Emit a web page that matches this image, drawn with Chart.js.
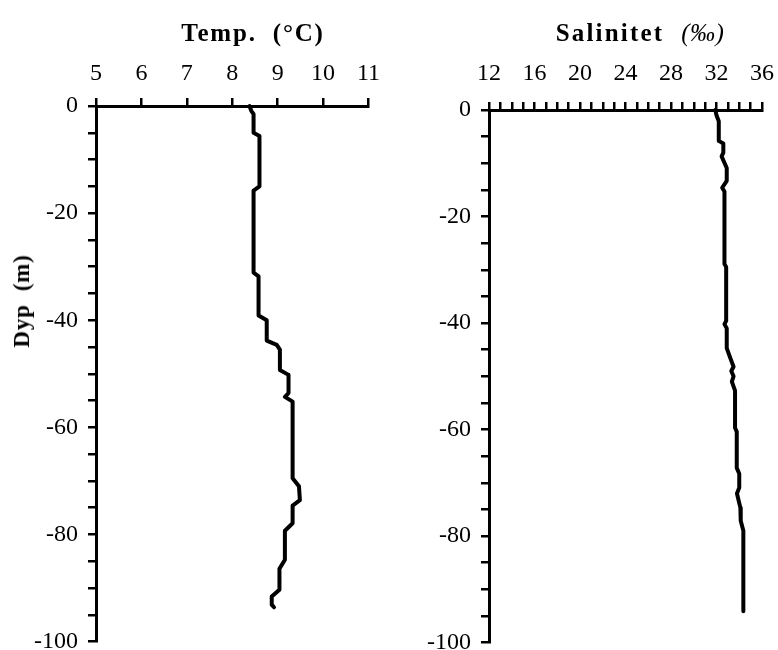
<!DOCTYPE html>
<html>
<head>
<meta charset="utf-8">
<script src="https://cdn.jsdelivr.net/npm/chart.js@4.4.1/dist/chart.umd.min.js"></script>
<style>
html,body{margin:0;padding:0;background:#fff;}
#wrap{position:relative;width:778px;height:650px;overflow:hidden;}
canvas{position:absolute;top:0;}
.ttl{position:absolute;font-family:"Liberation Serif","Times New Roman",serif;font-weight:bold;font-size:25px;letter-spacing:1.8px;white-space:nowrap;color:#000;transform:translate(-50%,-50%);}
.ttl .n{font-weight:normal;font-style:italic;letter-spacing:0.5px;}
.ytl{font-size:23px;letter-spacing:0.8px;}
</style>
</head>
<body>
<div id="wrap">
  <canvas id="c1" width="390" height="666" style="left:0px"></canvas>
  <canvas id="c2" width="399" height="667" style="left:389px"></canvas>
  <div class="ttl" style="left:253px;top:33px;">Temp.&nbsp;&nbsp;(°C)</div>
  <div class="ttl" style="left:640px;top:33px;letter-spacing:2.2px;">Salinitet&nbsp;&nbsp;<span class="n">(‰)</span></div>
  <div class="ttl ytl" style="left:22px;top:301px;transform:translate(-50%,-50%) rotate(-90deg);">Dyp&nbsp;&nbsp;(m)</div>
</div>
<script>
// ---- data ----
const tempDepth = [0, -0.9, -1.5, -5.0, -5.6, -15.0, -15.8, -31.1, -31.8, -39.1, -40.0, -43.8, -44.6, -45.5, -49.3, -50.2, -53.6, -54.3, -55.2, -69.5, -71.0, -73.6, -74.6, -77.9, -79.3, -84.7, -86.4, -90.3, -91.6, -93.1, -93.6];
const tempValue = [8.38, 8.42, 8.47, 8.47, 8.60, 8.60, 8.47, 8.47, 8.58, 8.58, 8.76, 8.76, 8.98, 9.05, 9.05, 9.24, 9.24, 9.16, 9.33, 9.33, 9.47, 9.49, 9.33, 9.33, 9.16, 9.16, 9.04, 9.04, 8.87, 8.87, 8.92];

const salDepth = [0, -1.0, -2.1, -5.8, -6.3, -8.0, -8.7, -10.9, -13.3, -14.6, -15.3, -28.9, -29.5, -39.6, -40.2, -41.0, -44.7, -46.5, -48.2, -49.0, -50.0, -51.0, -52.7, -59.7, -60.4, -67.2, -68.3, -70.9, -72.0, -74.7, -77.1, -79.0, -94.1];
const salValue = [31.9, 32.0, 32.2, 32.2, 32.6, 32.6, 32.45, 32.9, 32.9, 32.5, 32.7, 32.7, 32.85, 32.85, 32.7, 32.9, 32.9, 33.2, 33.5, 33.3, 33.5, 33.35, 33.63, 33.63, 33.78, 33.78, 34.0, 34.0, 33.8, 34.1, 34.13, 34.36, 34.36];

const tempTickLabels = [5, 6, 7, 8, 9, 10, 11];
const salTickLabels = [12, 16, 20, 24, 28, 32, 36];
const depthTickLabels = [0, -20, -40, -60, -80, -100];

// ---- chart construction ----
const FONT = {family: '"Liberation Serif", "Times New Roman", serif', size: 24};

function makeChart(id, xs, ys, xMin, xMax, xLabels, area) {
  const pts = xs.map((x, i) => ({x: x, y: ys[i]}));
  return new Chart(document.getElementById(id), {
    type: 'scatter',
    data: {datasets: [{
      data: pts, showLine: true, borderColor: '#000', borderWidth: 4,
      pointRadius: 0, tension: 0, fill: false, clip: false,
      borderJoinStyle: 'round', borderCapStyle: 'round'
    }]},
    options: {
      responsive: false, animation: false,
      layout: {padding: 0},
      plugins: {legend: {display: false}, tooltip: {enabled: false}},
      scales: {
        x: {
          type: 'linear', position: 'top', min: xMin, max: xMax,
          ticks: {stepSize: 1, maxTicksLimit: 200, autoSkip: false, maxRotation: 0, color: '#000', font: FONT, padding: area.xpad,
                  callback: v => xLabels.includes(v) ? String(v) : ''},
          grid: {drawOnChartArea: false, drawTicks: true, tickLength: 8, color: '#000', lineWidth: 2.5},
          border: {display: true, color: '#000', width: 3},
          afterFit: s => { s.height = area.top; }
        },
        y: {
          type: 'linear', min: -100, max: 0,
          ticks: {stepSize: 5, maxTicksLimit: 200, autoSkip: false, color: '#000', font: FONT, padding: 10,
                  callback: v => depthTickLabels.includes(v) ? String(v) : ''},
          grid: {drawOnChartArea: false, drawTicks: true, tickLength: 8, color: '#000', lineWidth: 2.5},
          border: {display: true, color: '#000', width: 3},
          afterFit: s => { s.width = area.left; }
        }
      }
    }
  });
}

makeChart('c1', tempValue, tempDepth, 5, 11, tempTickLabels, {left: 96, top: 106, xpad: 10});
makeChart('c2', salValue, salDepth, 12, 36, salTickLabels, {left: 100, top: 110, xpad: 14});
</script>
</body>
</html>
